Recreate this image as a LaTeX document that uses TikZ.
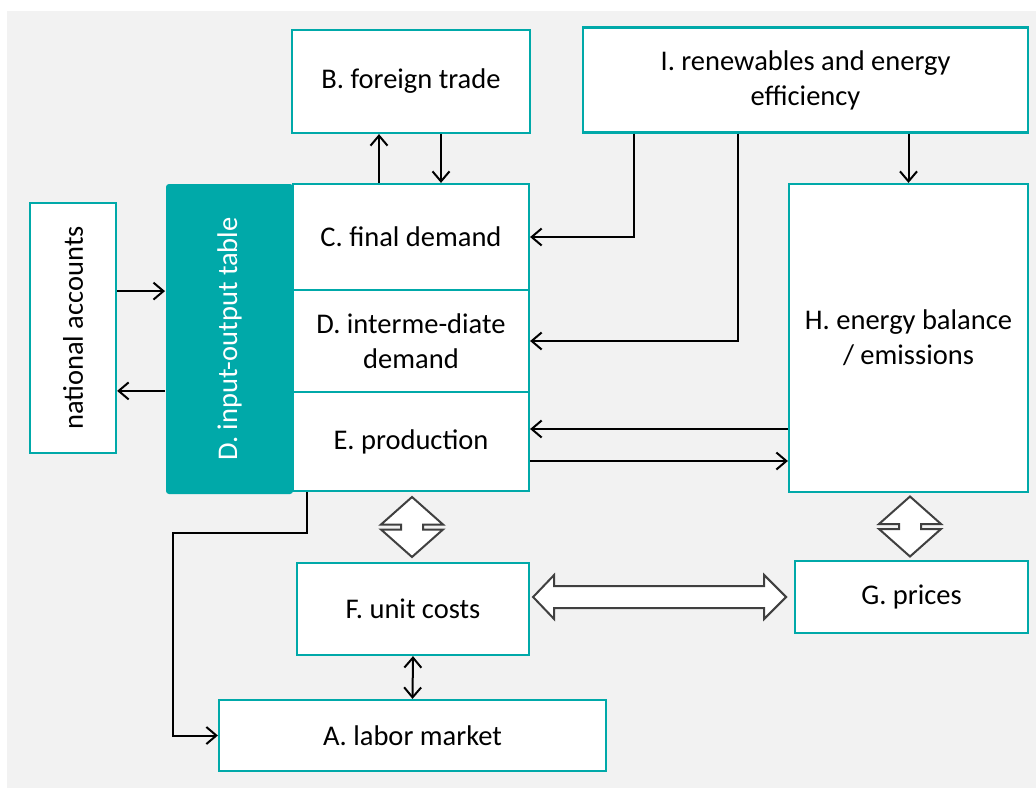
\documentclass[tikz,border=0pt]{standalone}
\usepackage{fontspec}
\setmainfont{Carlito}
\usetikzlibrary{positioning, arrows.meta, calc}

\definecolor{iotteal}{RGB}{0,169,169}
\definecolor{bggray}{RGB}{242,242,242}
\definecolor{arrowgray}{RGB}{64,64,64}

\tikzset{
  tealbox/.style={rectangle, draw=iotteal, line width=2.2pt, fill=white, align=center, inner sep=0pt},
  blockarrow/.style={draw=arrowgray, line width=2pt, fill=white, line join=miter},
  updown/.pic={
    \draw[blockarrow] (0,-30) -- (31,-2.5) -- (11,-2.5) -- (11,2.5) -- (31,2.5) -- (0,30)
      -- (-31,2.5) -- (-11,2.5) -- (-11,-2.5) -- (-31,-2.5) -- cycle;
  }
}

\begin{document}
\begin{tikzpicture}[x=1pt, y=-1pt, line width=2pt, >={Straight Barb[length=10pt,width=17pt]},
  every node/.append style={font=\fontsize{28.5}{35}\selectfont}]

\useasboundingbox (0,0) rectangle (1036,788);
\fill[bggray] (7,11) rectangle (1036,788);

\node[tealbox, minimum width=238, minimum height=103] (trade) at (411,81.5) {B. foreign trade};
\node[tealbox, minimum width=445, minimum height=105] (renew) at (805.5,80) {I. renewables and energy\\efficiency};
\node[tealbox, minimum width=86, minimum height=250] (natacc) at (73,328) {\rotatebox{90}{national accounts}};

\node[tealbox, minimum width=236, minimum height=106] (final) at (411,237) {C. final demand};
\node[tealbox, minimum width=236, minimum height=102] (inter) at (411,341) {D. interme-diate\\demand};
\node[tealbox, minimum width=236, minimum height=99] (prod) at (411,441.5) {E. production};
\node[rectangle, fill=iotteal, rounded corners=3pt, minimum width=127, minimum height=310, text=white] (iot) at (229.5,339) {\rotatebox{90}{D. input-output table}};

\node[tealbox, minimum width=239, minimum height=308] (energy) at (908.5,338) {H. energy balance\\/ emissions};
\node[tealbox, minimum width=232, minimum height=92] (ucost) at (413,609) {F. unit costs};
\node[tealbox, minimum width=233, minimum height=72] (prices) at (911.5,597) {G. prices};
\node[tealbox, minimum width=387, minimum height=71] (labor) at (412.5,735.5) {A. labor market};

% trade
\draw[->] ([xshift=-32pt]final.north) -- ([xshift=-32pt]trade.south);
\draw[->] ([xshift=30pt]trade.south) -- ([xshift=30pt]final.north);

% renewables
\draw[->] ([xshift=-171.5pt]renew.south) |- (final.east);
\draw[->] ([xshift=-67.5pt]renew.south) |- (inter.east);
\draw[->] (energy.north |- renew.south) -- (energy.north);

% national accounts
\draw[->] (natacc.east |- final.south) -- (iot.west |- final.south);
\draw[->] (iot.west |- prod.north) -- (natacc.east |- prod.north);

% energy balance
\coordinate (eh1) at ([yshift=12.5pt]prod.east);
\coordinate (eh2) at ([yshift=-19.5pt]prod.east);
\draw[->] (energy.west |- eh1) -- (eh1);
\draw[->] (eh2) -- (energy.west |- eh2);

% labor market
\draw[->] ([xshift=-104pt]prod.south) -- ++(0,41) -- ++(-134,0) |- (labor.west);
\draw[<->] (ucost.south) -- (labor.north);

% prices
\pic at ($(prod.south)!0.5!(ucost.north)$) {updown};
\pic at ($(energy.south)!0.5!(prices.north)$) {updown};
\coordinate (gl) at ([xshift=3pt]ucost.east |- prices.west);
\draw[blockarrow] (gl) -- ++(21,-22) -- ++(0,11) -- ++(210,0) -- ++(0,-11) -- ++(22,22)
  -- ++(-22,22) -- ++(0,-11) -- ++(-210,0) -- ++(0,11) -- cycle;
\end{tikzpicture}
\end{document}
